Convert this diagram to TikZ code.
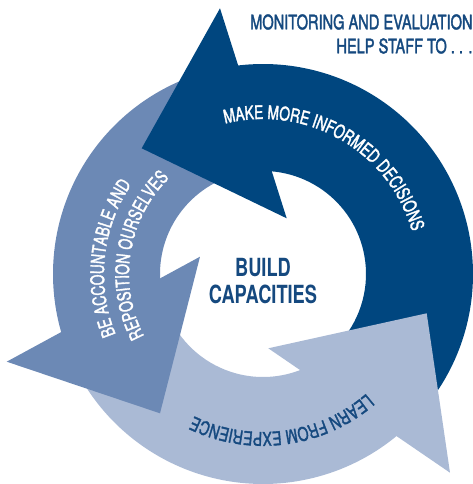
\documentclass[tikz,border=0pt]{standalone}
\usepackage{fontspec}
\usetikzlibrary{decorations.text}
\newfontfamily\cnfont[FakeStretch=0.73]{TeX Gyre Heros}
\newfontfamily\cnmed[FakeStretch=0.73, FakeBold=1.8]{TeX Gyre Heros}
\definecolor{mdark}{HTML}{00467F}
\definecolor{mmid}{HTML}{6C89B5}
\definecolor{mlight}{HTML}{AABAD5}
\definecolor{mtext}{HTML}{15497F}
\newcommand{\lblfont}{\cnmed\fontsize{18.7}{20}\selectfont}

\begin{document}
\begin{tikzpicture}[x=1pt,y=1pt]

% \draw[help lines, color=gray!30] (-263,-210) grid[step=20] (210,274);
\useasboundingbox (-263,-210) rectangle (210,274);

\tikzstyle{arclabel}=[decorate, decoration={text along path, text align=center}]
\tikzstyle{headline}=[anchor=base east, inner sep=0, text=mtext, font=\cnmed\fontsize{20}{24}\selectfont]

% ring pieces, each one starts and ends under an arrow head
\fill[mdark] (320:210) arc[start angle=320, end angle=460, radius=210] -- (460:103) arc[start angle=460, end angle=320, radius=103] -- cycle;
\fill[mmid] (105:210) arc[start angle=105, end angle=200, radius=210] -- (200:103) arc[start angle=200, end angle=105, radius=103] -- cycle;
\fill[mlight] (205:210) arc[start angle=205, end angle=315, radius=210] -- (315:103) arc[start angle=315, end angle=205, radius=103] -- cycle;

% heads
\fill[mdark] (-43,265.7) -- (-121.3,125.7) -- (23.7,55.7) -- cycle;
\fill[mmid] (-256.3,-87.7) -- (-103,-139.3) -- (-63,17.3) -- cycle;
\fill[mlight] (187,-198.7) -- (163.7,-39.3) -- (5.3,-74.3) -- cycle;

% labels on the ring
\path[arclabel, decoration={text color=white, text={|\lblfont|MAKE MORE INFORMED DECISIONS}}]
  (120:155) arc[start angle=120, end angle=0, radius=155];
\path[arclabel, decoration={text color=white, text={|\lblfont|BE ACCOUNTABLE AND}}]
  (219:159) arc[start angle=219, end angle=129, radius=159];
\path[arclabel, decoration={text color=white, text={|\lblfont|REPOSITION OURSELVES}}]
  (216:134) arc[start angle=216, end angle=126, radius=134];
\path[arclabel, decoration={text color=mtext, text={|\cnmed\fontsize{19}{20}\selectfont|LEARN FROM EXPERIENCE}}]
  (322.5:158) arc[start angle=322.5, end angle=232.5, radius=158];

% centre
\node[align=center, inner sep=0, text=mtext, font=\cnfont\bfseries\fontsize{25}{27.7}\selectfont] (build) at (0,-7) {BUILD\\CAPACITIES};

% heading
\node[headline] (mande) at (209.7,244.7) {MONITORING AND EVALUATION};
\node[headline] (helpto) at ([yshift=-24]mande.base east) {HELP STAFF TO . . .};

\end{tikzpicture}
\end{document}
